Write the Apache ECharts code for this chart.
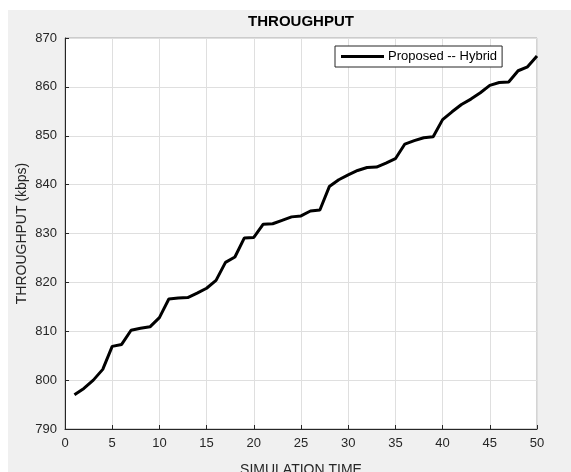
<!DOCTYPE html>
<html>
<head>
<meta charset="utf-8">
<script src="https://cdn.jsdelivr.net/npm/echarts@6/dist/echarts.min.js"></script>
<style>
  html, body { margin: 0; padding: 0; background: #fff; }
  #main { width: 571px; height: 472px; }
</style>
</head>
<body>
<div id="main"></div>
<script>
// simulation time steps 1..50
var simTime = [1,2,3,4,5,6,7,8,9,10,11,12,13,14,15,16,17,18,19,20,21,22,23,24,25,
  26,27,28,29,30,31,32,33,34,35,36,37,38,39,40,41,42,43,44,45,46,47,48,49,50];
// throughput (kbps)
var hybrid = [797.0,798.3,800.0,802.2,806.9,807.3,810.2,810.6,810.9,812.8,
  816.6,816.8,816.9,817.8,818.8,820.4,824.1,825.2,829.1,829.2,
  831.9,832.0,832.7,833.4,833.6,834.6,834.8,839.6,841.0,842.0,
  842.9,843.5,843.6,844.4,845.3,848.3,849.0,849.6,849.8,853.3,
  854.9,856.4,857.5,858.8,860.3,860.9,861.0,863.3,864.1,866.3];
var seriesName = 'Proposed -- Hybrid';

var font = '"Liberation Sans", Arial, Helvetica, sans-serif';
var axisColor = '#262626';

var myChart = echarts.init(document.getElementById('main'));

var option = {
  backgroundColor: '#fff',
  animation: false,
  textStyle: { fontFamily: font },
  graphic: [{
    type: 'rect',
    z: -10,
    silent: true,
    shape: { x: 8, y: 10, width: 563, height: 462 },
    style: { fill: '#f0f0f0' }
  }],
  title: {
    text: 'THROUGHPUT',
    left: 301,
    textAlign: 'center',
    top: 14,
    padding: 0,
    textStyle: { fontFamily: font, fontSize: 15, fontWeight: 'bold', color: '#000' }
  },
  legend: {
    data: [seriesName],
    left: 335,
    top: 46,
    orient: 'vertical',
    padding: [4, 5, 4, 6],
    backgroundColor: '#fff',
    borderColor: axisColor,
    borderWidth: 1,
    borderRadius: 0,
    icon: 'rect',
    itemWidth: 43,
    itemHeight: 3,
    itemStyle: { color: '#000' },
    textStyle: { fontFamily: font, fontSize: 13, color: '#000', padding: [0, 0, 0, -1] }
  },
  grid: {
    left: 65,
    right: 34,
    top: 38,
    bottom: 43,
    outerBoundsMode: 'none',
    containLabel: false,
    show: true,
    backgroundColor: '#fff',
    borderColor: '#a8a8a8',
    borderWidth: 1
  },
  xAxis: {
    type: 'value',
    min: 0,
    max: 50,
    interval: 5,
    name: 'SIMULATION TIME',
    nameLocation: 'middle',
    nameMoveOverlap: false,
    nameGap: 34,
    nameTextStyle: { fontFamily: font, fontSize: 14, color: axisColor },
    axisLine: { lineStyle: { color: axisColor, width: 1 } },
    axisTick: { inside: true, length: 4, lineStyle: { color: axisColor } },
    axisLabel: { fontFamily: font, fontSize: 13, color: axisColor, margin: 8 },
    splitLine: { show: true, lineStyle: { color: '#dfdfdf', width: 1 } }
  },
  yAxis: {
    type: 'value',
    min: 790,
    max: 870,
    interval: 10,
    name: 'THROUGHPUT (kbps)',
    nameLocation: 'middle',
    nameMoveOverlap: false,
    nameGap: 36,
    nameTextStyle: { fontFamily: font, fontSize: 14, color: axisColor },
    axisLine: { show: true, lineStyle: { color: axisColor, width: 1 } },
    axisTick: { show: true, inside: true, length: 4, lineStyle: { color: axisColor } },
    axisLabel: { fontFamily: font, fontSize: 13, color: axisColor, margin: 8 },
    splitLine: { show: true, lineStyle: { color: '#dfdfdf', width: 1 } }
  },
  series: [{
    name: seriesName,
    type: 'line',
    data: simTime.map(function (t, i) { return [t, hybrid[i]]; }),
    showSymbol: false,
    symbol: 'none',
    lineStyle: { color: '#000', width: 3 },
    itemStyle: { color: '#000' }
  }]
};

myChart.setOption(option);
</script>
</body>
</html>
